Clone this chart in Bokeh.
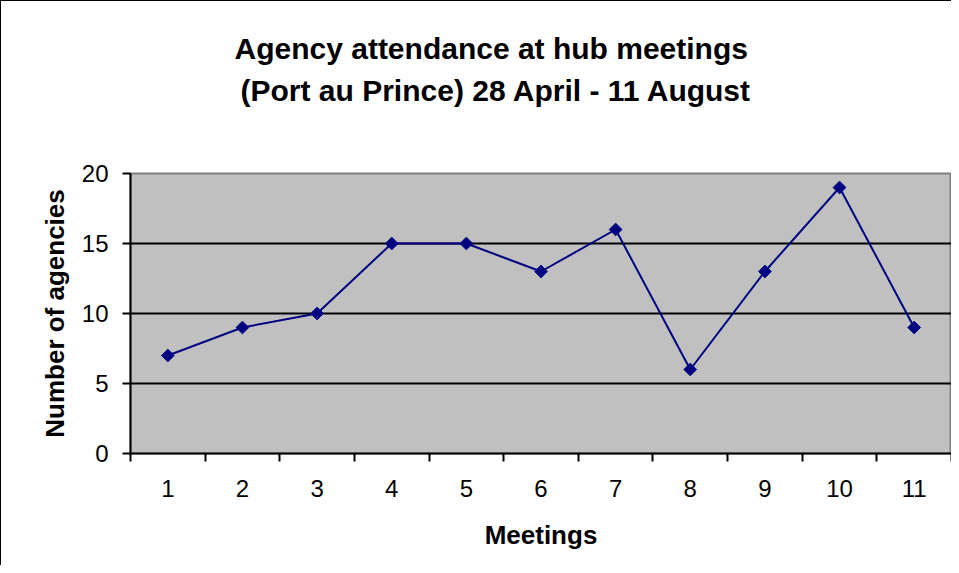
import numpy as np
from bokeh.plotting import figure
from bokeh.layouts import column
from bokeh.models import Range1d, FixedTicker, Title
from bokeh.core.validation import silence
from bokeh.core.validation.warnings import MISSING_RENDERERS
from bokeh.embed import file_html
from bokeh.resources import INLINE

meetings = [1, 2, 3, 4, 5, 6, 7, 8, 9, 10, 11]
agencies = [7, 9, 10, 15, 15, 13, 16, 6, 13, 19, 9]
y_ticks = [0, 5, 10, 15, 20]
title_line1 = "Agency attendance at hub meetings"
title_line2 = "(Port au Prince)  28 April - 11 August"
x_label = "Meetings"
y_label = "Number of agencies"

FONT = "Liberation Sans"
silence(MISSING_RENDERERS, True)

# ---- title strip (two bold lines) ----
tf = figure(width=950, height=150, output_backend="svg", toolbar_location=None,
            title=None, x_axis_location=None, y_axis_location=None,
            x_range=Range1d(0, 1), y_range=Range1d(0, 1),
            min_border_left=129, min_border_right=0, min_border_top=108,
            min_border_bottom=0)
tf.outline_line_color = None
tf.background_fill_color = "white"
tf.border_fill_color = "white"
tf.xgrid.visible = False
tf.ygrid.visible = False
t2 = Title(text=title_line2, align="left", offset=110, text_font=FONT,
           text_font_size="30px", text_font_style="bold", text_color="black",
           standoff=6)
t1 = Title(text=title_line1, align="left", offset=104, text_font=FONT,
           text_font_size="30px", text_font_style="bold", text_color="black",
           standoff=7)
tf.add_layout(t2, "above")
tf.add_layout(t1, "above")

# ---- main chart ----
p = figure(width=950, height=414, output_backend="svg", toolbar_location=None,
           title=None,
           x_range=Range1d(0.5, 11.5), y_range=Range1d(0, 20),
           min_border_left=129, min_border_right=0, min_border_top=22,
           min_border_bottom=112)

xa = p.below[0]
ya = p.left[0]

p.background_fill_color = "#C0C0C0"
p.border_fill_color = "white"
p.outline_line_color = "#808080"
p.outline_line_width = 2

p.xgrid.visible = False
p.ygrid.ticker = FixedTicker(ticks=[5, 10, 15])
p.ygrid.grid_line_color = "black"
p.ygrid.grid_line_width = 2

# x axis: labels at categories, tick marks at category boundaries
xa.ticker = FixedTicker(ticks=meetings,
                        minor_ticks=[m - 0.5 for m in meetings] + [meetings[-1] + 0.5])
xa.major_tick_out = 0
xa.major_tick_in = 0
xa.minor_tick_out = 8
xa.minor_tick_in = 0
xa.minor_tick_line_color = "black"
xa.minor_tick_line_width = 2
xa.axis_line_color = "black"
xa.axis_line_width = 2
xa.major_label_standoff = 18
xa.major_label_text_font = FONT
xa.major_label_text_font_size = "24px"
xa.major_label_text_color = "black"
xa.axis_label = x_label
xa.axis_label_text_font = FONT
xa.axis_label_text_font_size = "26px"
xa.axis_label_text_font_style = "bold"
xa.axis_label_text_color = "black"
xa.axis_label_standoff = 20

ya.ticker = FixedTicker(ticks=y_ticks)
ya.minor_tick_line_color = None
ya.major_tick_out = 8
ya.major_tick_in = 0
ya.major_tick_line_color = "black"
ya.major_tick_line_width = 2
ya.axis_line_color = "black"
ya.axis_line_width = 2
ya.major_label_standoff = 14
ya.major_label_text_font = FONT
ya.major_label_text_font_size = "24px"
ya.major_label_text_color = "black"
ya.axis_label = y_label
ya.axis_label_text_font = FONT
ya.axis_label_text_font_size = "26px"
ya.axis_label_text_font_style = "bold"
ya.axis_label_text_color = "black"
ya.axis_label_standoff = 9

p.line(meetings, agencies, line_color="#000080", line_width=2)
p.scatter(meetings, agencies, marker="square", size=9, angle=np.pi / 4,
          fill_color="#000080", line_color="#000080")

layout = column(tf, p, spacing=0,
                styles={"border-left": "1px solid black", "border-top": "1px solid black"})

open("out.html", "w").write(file_html(layout, INLINE))
